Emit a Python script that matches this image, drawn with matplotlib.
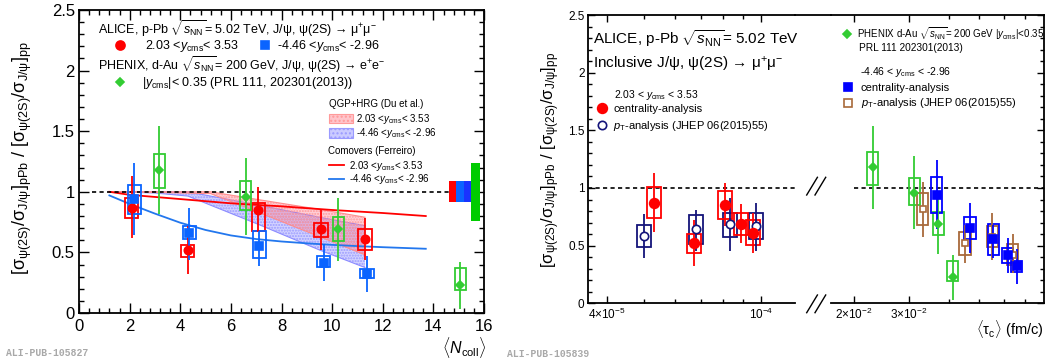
import numpy as np
import matplotlib
matplotlib.use("Agg")
import matplotlib.pyplot as plt
from matplotlib.lines import Line2D
from matplotlib.patches import Patch, Rectangle
from matplotlib.ticker import MultipleLocator, FixedLocator, NullFormatter

# -----------------------------
# DATA: left panel, ratio vs <Ncoll>
# -----------------------------
ncoll_fw = [2.08, 4.29, 7.09, 9.56, 11.30]
r_fw = [0.87, 0.52, 0.85, 0.69, 0.61]
stat_fw_lo = [0.615, 0.32, 0.67, 0.52, 0.44]
stat_fw_hi = [1.13, 0.72, 1.04, 0.86, 0.78]
syst_fw_lo = [0.78, 0.46, 0.68, 0.63, 0.52]
syst_fw_hi = [0.95, 0.565, 0.91, 0.745, 0.69]

ncoll_bw = [2.18, 4.36, 7.13, 9.66, 11.38]
r_bw = [0.94, 0.656, 0.554, 0.416, 0.322]
stat_bw_lo = [0.645, 0.44, 0.39, 0.26, 0.17]
stat_bw_hi = [1.24, 0.87, 0.68, 0.57, 0.47]
syst_bw_lo = [0.82, 0.61, 0.45, 0.38, 0.29]
syst_bw_hi = [1.06, 0.72, 0.68, 0.47, 0.36]

ncoll_phx = [3.17, 6.58, 10.24, 15.06]
r_phx = [1.18, 0.96, 0.69, 0.23]
stat_phx_lo = [0.82, 0.64, 0.43, 0.03]
stat_phx_hi = [1.54, 1.28, 0.95, 0.42]
syst_phx_lo = [1.03, 0.85, 0.59, 0.19]
syst_phx_hi = [1.31, 1.09, 0.79, 0.37]

# global uncertainties (boxes at 1)
glob_x = [14.6, 14.9, 15.2, 15.5]
glob_w = [0.3, 0.3, 0.3, 0.35]
glob_half = [0.085, 0.085, 0.085, 0.24]
glob_col = ["#ff0000", "#0a64ff", "#1a33ff", "#00cc00"]

# QGP+HRG bands (Du et al.)
band_fw_x = [1.2, 3.0, 5.2, 7.1, 9.5, 11.3]
band_fw_hi = [1.0, 1.0, 1.0, 0.935, 0.855, 0.79]
band_fw_lo = [1.0, 0.995, 0.985, 0.83, 0.63, 0.48]
band_bw_x = [1.5, 3.0, 4.3, 7.1, 9.5, 11.3]
band_bw_hi = [1.0, 1.0, 1.0, 0.89, 0.79, 0.72]
band_bw_lo = [1.0, 0.99, 0.965, 0.73, 0.52, 0.375]

# comovers (Ferreiro)
com_fw_x = [1.2, 2, 4, 6, 8, 10, 12, 13.7]
com_fw_y = [1.0, 0.975, 0.94, 0.905, 0.88, 0.85, 0.825, 0.80]
com_bw_x = [1.2, 2, 3, 4, 5, 6, 7, 8, 9, 10, 11, 12, 13.7]
com_bw_y = [0.97, 0.90, 0.82, 0.745, 0.685, 0.64, 0.61, 0.59, 0.575, 0.562, 0.552, 0.543, 0.53]

# -----------------------------
# DATA: right panel, ratio vs <tau_c>
# -----------------------------
tau_fw_c = [5.31e-5, 6.71e-5, 8.08e-5, 8.90e-5, 9.52e-5]
rsyst_fw_lo = [0.737, 0.44, 0.729, 0.592, 0.506]
rsyst_fw_hi = [1.01, 0.598, 0.977, 0.786, 0.72]

tau_fw_pt = [5.0e-5, 6.82e-5, 8.31e-5, 9.71e-5]
r_fw_pt = [0.586, 0.642, 0.685, 0.67]
stat_fw_pt_lo = [0.39, 0.45, 0.45, 0.456]
stat_fw_pt_hi = [0.775, 0.81, 0.91, 0.873]
syst_fw_pt_lo = [0.486, 0.514, 0.572, 0.555]
syst_fw_pt_hi = [0.68, 0.766, 0.786, 0.78]

tau_bw_c = [0.03668, 0.04684, 0.05556, 0.06174, 0.06594]
rsyst_bw_lo = [0.78, 0.558, 0.419, 0.347, 0.274]
rsyst_bw_hi = [1.093, 0.751, 0.685, 0.477, 0.37]

tau_bw_pt = [0.0331, 0.04514, 0.05514, 0.064]
r_bw_pt = [0.818, 0.52, 0.578, 0.419]
stat_bw_pt_lo = [0.578, 0.352, 0.376, 0.26]
stat_bw_pt_hi = [1.055, 0.679, 0.786, 0.60]
syst_bw_pt_lo = [0.679, 0.419, 0.49, 0.332]
syst_bw_pt_hi = [0.954, 0.616, 0.67, 0.51]

tau_phx = [0.02294, 0.0311, 0.0371, 0.0412]

RED = "#ff0000"
BLUE = "#0a64ff"
GREEN = "#33cc33"
NAVY = "#14147a"
DBLUE = "#0000ff"
BROWN = "#a8693a"

# -----------------------------
# STYLE
# -----------------------------
plt.rcParams.update({
    "font.family": ["Liberation Sans", "DejaVu Sans"],
    "mathtext.fontset": "custom",
    "mathtext.rm": "Liberation Sans",
    "mathtext.it": "Liberation Sans:italic",
    "mathtext.bf": "Liberation Sans:bold",
    "axes.linewidth": 1.3,
    "xtick.direction": "in",
    "ytick.direction": "in",
})

W, H = 1052, 362
fig = plt.figure(figsize=(W / 100, H / 100), dpi=100)


def fx(px):
    return px / W


def fy(py):
    return 1 - py / H


def draw_set(ax, x, y, lo, hi, slo, shi, color, marker, ms, half, log=False, mfc=None):
    x = np.asarray(x, float)
    y = np.asarray(y, float)
    for xi, a, b in zip(x, slo, shi):
        if log:
            x0, x1 = xi / half, xi * half
        else:
            x0, x1 = xi - half, xi + half
        ax.add_patch(Rectangle((x0, a), x1 - x0, b - a, fill=False, ec=color, lw=1.3, zorder=3))
    ax.errorbar(x, y, yerr=[y - np.asarray(lo), np.asarray(hi) - y], fmt="none",
                ecolor=color, elinewidth=1.3, capsize=0, zorder=4)
    ax.plot(x, y, ls="none", marker=marker, ms=ms, color=color,
            mfc=mfc if mfc else color, mec=color, mew=1.2, zorder=5)


def key(handle, label, px, py, fs, hl=1.3, pad=0.8, hh=0.7):
    fig.legend([handle], [label], loc="center left", bbox_to_anchor=(fx(px), fy(py)),
               bbox_transform=fig.transFigure, frameon=False, fontsize=fs,
               handlelength=hl, handletextpad=pad, handleheight=hh,
               borderpad=0, borderaxespad=0)


def mk(marker, color, ms, mfc=None):
    return Line2D([], [], ls="none", marker=marker, color=color, ms=ms,
                  mfc=mfc if mfc else color, mec=color, mew=1.2)


# -----------------------------
# LEFT PANEL
# -----------------------------
axL = fig.add_axes([fx(79), fy(313), (484 - 79) / W, (313 - 10) / H])
axL.set_xlim(0, 16)
axL.set_ylim(0, 2.5)

# blue band first, red band on top -> purple overlap
axL.fill_between(band_bw_x, band_bw_lo, band_bw_hi, facecolor="#7070ff", alpha=0.3, lw=0, zorder=1)
axL.fill_between(band_bw_x, band_bw_lo, band_bw_hi, facecolor="none", edgecolor="#9a9aff",
                 hatch="......", lw=0, zorder=1)
axL.plot(band_bw_x, band_bw_hi, color="#8c8cff", lw=0.8, zorder=1)
axL.plot(band_bw_x, band_bw_lo, color="#8c8cff", lw=0.8, zorder=1)
axL.fill_between(band_fw_x, band_fw_lo, band_fw_hi, facecolor="#ff6080", alpha=0.3, lw=0, zorder=1)
axL.fill_between(band_fw_x, band_fw_lo, band_fw_hi, facecolor="none", edgecolor="#ff9a9a",
                 hatch="......", lw=0, zorder=1)
axL.plot(band_fw_x, band_fw_hi, color="#ff8c8c", lw=0.8, zorder=1)
axL.plot(band_fw_x, band_fw_lo, color="#ff8c8c", lw=0.8, zorder=1)

axL.plot(com_fw_x, com_fw_y, color=RED, lw=1.3, zorder=2)
axL.plot(com_bw_x, com_bw_y, color="#2277ee", lw=1.3, zorder=2)

axL.hlines(1, 0.5, glob_x[0], colors="k", linestyles=(0, (2.5, 2)), lw=1.2, zorder=2)
axL.bar(glob_x, [2 * h for h in glob_half], width=glob_w,
        bottom=[1 - h for h in glob_half], align="edge", color=glob_col, lw=0, zorder=2)

draw_set(axL, ncoll_fw, r_fw, stat_fw_lo, stat_fw_hi, syst_fw_lo, syst_fw_hi, RED, "o", 6, 0.26)
draw_set(axL, ncoll_bw, r_bw, stat_bw_lo, stat_bw_hi, syst_bw_lo, syst_bw_hi, BLUE, "s", 5.5, 0.26)
draw_set(axL, ncoll_phx, r_phx, stat_phx_lo, stat_phx_hi, syst_phx_lo, syst_phx_hi, GREEN, "D", 4.5, 0.22)

axL.xaxis.set_major_locator(MultipleLocator(2))
axL.xaxis.set_minor_locator(MultipleLocator(0.4))
axL.yaxis.set_major_locator(MultipleLocator(0.5))
axL.yaxis.set_minor_locator(MultipleLocator(0.1))
axL.set_yticks([0, 0.5, 1, 1.5, 2, 2.5], ["0", "0.5", "1", "1.5", "2", "2.5"])
axL.tick_params(which="both", top=True, right=True, labelsize=12, width=1)
axL.tick_params(which="major", length=7)
axL.tick_params(which="minor", length=3.5)
axL.tick_params(axis="x", pad=4)
axL.tick_params(axis="y", pad=3)

ylab = (r"$[\mathrm{\sigma}_{\mathrm{\psi(2S)}}/\mathrm{\sigma}_{\mathrm{J/\psi}}]_{\mathrm{pPb}}$ / "
        r"$[\mathrm{\sigma}_{\mathrm{\psi(2S)}}/\mathrm{\sigma}_{\mathrm{J/\psi}}]_{\mathrm{pp}}$")
fig.text(fx(22), fy(158), ylab, rotation=90, ha="center", va="center", fontsize=13)
fig.text(fx(486), fy(347), r"$\langle N_{\mathrm{coll}}\rangle$", ha="right", va="center", fontsize=11.5)

fig.text(fx(98), fy(29), r"ALICE, p-Pb $\sqrt{s_{\mathrm{NN}}}$= 5.02 TeV, J/$\mathrm{\psi}$, "
         r"$\mathrm{\psi}$(2S) → $\mathrm{\mu^{+}\mu^{-}}$", fontsize=9, va="center")
fig.text(fx(98), fy(65), r"PHENIX, d-Au $\sqrt{s_{\mathrm{NN}}}$= 200 GeV, J/$\mathrm{\psi}$, "
         r"$\mathrm{\psi}$(2S) → e$^{+}$e$^{-}$", fontsize=9, va="center")
key(mk("o", RED, 6.5), r"2.03 <$y_{\mathrm{cms}}$< 3.53", 111.9, 46, 9, hl=1.3, pad=1.35)
key(mk("s", BLUE, 5.5), r"-4.46 <$y_{\mathrm{cms}}$< -2.96", 256.9, 46, 9, hl=1.3, pad=0.31)
key(mk("D", GREEN, 4.5), r"|$y_{\mathrm{cms}}$|< 0.35 (PRL 111, 202301(2013))", 111.9, 83, 9, hl=1.3, pad=1.1)

fig.text(fx(329), fy(104), "QGP+HRG (Du et al.)", fontsize=7, va="center")
key(Patch(facecolor=(1, 0.55, 0.6, 0.5), edgecolor="#ff9a9a", hatch="....", lw=0.8),
    r"2.03 <$y_{\mathrm{cms}}$< 3.53", 329.3, 118.8, 7, hl=2.4, pad=0.34, hh=1.13)
key(Patch(facecolor=(0.6, 0.6, 1, 0.5), edgecolor="#9a9aff", hatch="....", lw=0.8),
    r"-4.46 <$y_{\mathrm{cms}}$< -2.96", 329.3, 133.3, 7, hl=2.4, pad=0.34, hh=1.13)
fig.text(fx(328), fy(150.7), "Comovers (Ferreiro)", fontsize=7, va="center")
key(Line2D([], [], color=RED, lw=1.3), r"2.03 <$y_{\mathrm{cms}}$< 3.53", 329, 165.7, 7, hl=1.55, pad=0.55)
key(Line2D([], [], color="#2277ee", lw=1.3), r"-4.46 <$y_{\mathrm{cms}}$< -2.96", 329, 179, 7, hl=1.55, pad=0.55)

# -----------------------------
# RIGHT PANEL (broken log axis)
# -----------------------------
axA = fig.add_axes([fx(588), fy(303.3), (795 - 588) / W, (303.3 - 15) / H])
axB = fig.add_axes([fx(830.7), fy(303.3), (1044.3 - 830.7) / W, (303.3 - 15) / H])
for ax in (axA, axB):
    ax.set_xscale("log")
    ax.set_ylim(0, 2.5)
    ax.yaxis.set_major_locator(MultipleLocator(0.5))
    ax.yaxis.set_minor_locator(MultipleLocator(0.1))
    ax.tick_params(which="both", top=True, labelsize=8.5, width=1, pad=2.5)
    ax.tick_params(which="major", length=5)
    ax.tick_params(which="minor", length=3)
axA.set_xlim(3.58e-5, 1.225e-4)
axB.set_xlim(0.01686, 0.0807)

axA.spines["right"].set_visible(False)
axA.tick_params(which="both", right=False)
axA.set_yticks([0, 0.5, 1, 1.5, 2, 2.5], ["0", "0.5", "1", "1.5", "2", "2.5"])
axA.set_xticks([4e-5, 1e-4], [r"4$\times$10$^{-5}$", r"10$^{-4}$"])
axA.xaxis.set_minor_locator(FixedLocator([5e-5, 6e-5, 7e-5, 8e-5, 9e-5]))
axA.xaxis.set_minor_formatter(NullFormatter())

axB.spines["left"].set_visible(False)
axB.tick_params(which="both", left=False, labelleft=False, right=True)
axB.set_xticks([0.02, 0.03], [r"2$\times$10$^{-2}$", r"3$\times$10$^{-2}$"])
axB.xaxis.set_minor_locator(FixedLocator([0.04, 0.05, 0.06, 0.07]))
axB.xaxis.set_minor_formatter(NullFormatter())

axA.axhline(1, color="k", ls=(0, (2.5, 2)), lw=1.2, zorder=2)
axB.hlines(1, 0.02, 0.0807, colors="k", linestyles=(0, (2.5, 2)), lw=1.2, zorder=2)

bw = 10 ** 0.018
draw_set(axA, tau_fw_pt, r_fw_pt, stat_fw_pt_lo, stat_fw_pt_hi, syst_fw_pt_lo, syst_fw_pt_hi,
         NAVY, "o", 6, bw, log=True, mfc="white")
draw_set(axA, tau_fw_c, r_fw, stat_fw_lo, stat_fw_hi, rsyst_fw_lo, rsyst_fw_hi,
         RED, "o", 7, bw, log=True)
draw_set(axB, tau_phx, r_phx, stat_phx_lo, stat_phx_hi, syst_phx_lo, syst_phx_hi,
         GREEN, "D", 4.5, bw, log=True)
draw_set(axB, tau_bw_pt, r_bw_pt, stat_bw_pt_lo, stat_bw_pt_hi, syst_bw_pt_lo, syst_bw_pt_hi,
         BROWN, "s", 5, bw, log=True, mfc="white")
draw_set(axB, tau_bw_c, r_bw, stat_bw_lo, stat_bw_hi, rsyst_bw_lo, rsyst_bw_hi,
         DBLUE, "s", 5.5, bw, log=True)

# axis break marks and top frame across the gap
fig.add_artist(Line2D([fx(795), fx(830.7)], [fy(15), fy(15)], color="k", lw=1.3))
for y0 in (312.7, 195):
    for x0 in (806.7, 815):
        fig.add_artist(Line2D([fx(x0), fx(x0 + 10.7)], [fy(y0), fy(y0 - 17.7)], color="k", lw=1))

fig.text(fx(551), fy(160), ylab, rotation=90, ha="center", va="center", fontsize=12)
fig.text(fx(1044), fy(329), r"$\langle\mathrm{\tau}_{\mathrm{c}}\rangle$ (fm/c)",
         ha="right", va="center", fontsize=10.5)

fig.text(fx(593), fy(38.3), r"ALICE, p-Pb $\sqrt{s_{\mathrm{NN}}}$= 5.02 TeV", fontsize=11, va="center")
fig.text(fx(593), fy(64), r"Inclusive J/$\mathrm{\psi}$, $\mathrm{\psi}$(2S) → "
         r"$\mathrm{\mu^{+}\mu^{-}}$", fontsize=11, va="center")
fig.text(fx(614), fy(95), r"2.03 < $y_{\mathrm{cms}}$ < 3.53", fontsize=7.5, va="center")
key(mk("o", RED, 7), "centrality-analysis", 596.1, 109.3, 8, hl=1.0, pad=0.55)
key(mk("o", NAVY, 6, mfc="white"), r"$p_{\mathrm{T}}$-analysis (JHEP 06(2015)55)", 596.1, 126, 8, hl=1.0, pad=0.55)

key(mk("D", GREEN, 4.5), r"PHENIX d-Au $\sqrt{s_{\mathrm{NN}}}$= 200 GeV |$y_{\mathrm{cms}}$|<0.35",
    841.7, 33.2, 7.0, hl=1.1, pad=0.5)
fig.text(fx(859), fy(48), "PRL 111 202301(2013)", fontsize=7.3, va="center")
fig.text(fx(860), fy(72), r"-4.46 < $y_{\mathrm{cms}}$ < -2.96", fontsize=7.5, va="center")
key(mk("s", DBLUE, 5.5), "centrality-analysis", 842.4, 88, 8, hl=1.0, pad=0.67)
key(mk("s", BROWN, 5.5, mfc="white"), r"$p_{\mathrm{T}}$-analysis (JHEP 06(2015)55)", 842.4, 103.4, 8, hl=1.0, pad=0.67)

# publication tags
fig.text(fx(6), fy(353), "ALI-PUB-105827", family="Liberation Mono", fontsize=7,
         color="#a8a8a8", weight="bold", va="center")
fig.text(fx(507), fy(354), "ALI-PUB-105839", family="Liberation Mono", fontsize=7,
         color="#a8a8a8", weight="bold", va="center")

fig.savefig("out.png", dpi=100)
